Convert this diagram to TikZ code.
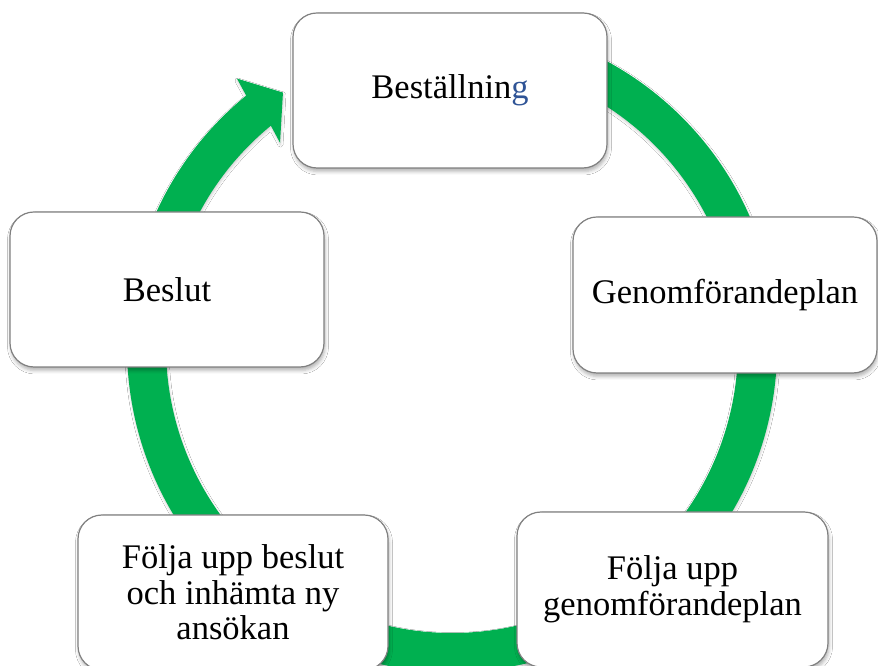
\documentclass[tikz,border=0pt]{standalone}
\usepackage{fontspec}
\setmainfont{Liberation Serif}
\usetikzlibrary{shadows.blur}
\definecolor{ringgreen}{HTML}{00B050}
\definecolor{gblue}{HTML}{2F5496}
\tikzset{
  cyclebox/.style={draw=black!50, line width=1.2pt, fill=white, rounded corners=24pt,
    align=center, inner sep=0pt, font=\fontsize{34.5}{35.5}\selectfont,
    blur shadow={shadow xshift=1pt, shadow yshift=-3.5pt, shadow blur radius=3.5pt, shadow opacity=30}},
  ringstyle/.style={fill=ringgreen,
    blur shadow={shadow xshift=0.5pt, shadow yshift=-2pt, shadow blur radius=2.5pt, shadow opacity=20}}
}
\begin{document}
\begin{tikzpicture}[x=1pt,y=1pt]
\useasboundingbox (0,0) rectangle (878,666);
\clip (0,0) rectangle (878,666);
\fill[white] (0,0) rectangle (878,666);
% ring with arrowhead
\coordinate (ctr) at (452,319);
\path[ringstyle, shift={(ctr)}]
  (100:325) arc[start angle=100, end angle=-230.7, radius=325]
  -- (-231.3:344) -- (-236.4:305.5) -- (-229.9:267)
  -- (-230.7:286) arc[start angle=-230.7, end angle=100, radius=286] -- cycle;
% boxes
\node[cyclebox, minimum width=314pt, minimum height=155pt] (best) at (450,575.5) {Beställnin{\color{gblue}g}};
\node[cyclebox, minimum width=304pt, minimum height=156pt] (genom) at (725,371) {Genomförandeplan};
\node[cyclebox, minimum width=314pt, minimum height=155pt] (beslut) at (167,376.5) {Beslut};
\node[cyclebox, minimum width=310pt, minimum height=155pt] (foljab) at (233,73.5) {Följa upp beslut\\och inhämta ny\\ansökan};
\node[cyclebox, minimum width=311pt, minimum height=155pt] (foljag) at (672.5,76.5) {Följa upp\\genomförandeplan};
\end{tikzpicture}
\end{document}
